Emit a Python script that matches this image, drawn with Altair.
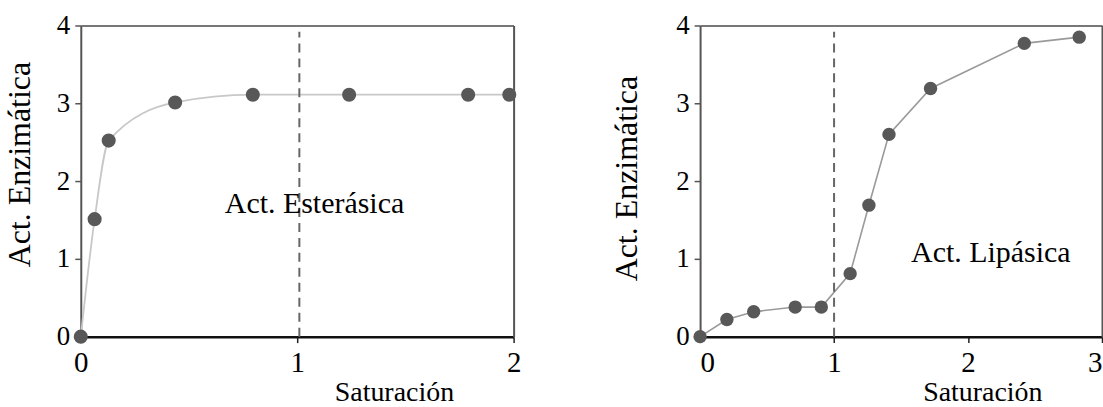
import altair as alt
import pandas as pd

# ---- data ----
left_x = [0.0, 0.064, 0.129, 0.436, 0.795, 1.24, 1.79, 1.98]
left_y = [0.0, 1.51, 2.52, 3.01, 3.11, 3.11, 3.11, 3.11]
right_x = [0.0, 0.20, 0.40, 0.71, 0.905, 1.12, 1.26, 1.41, 1.72, 2.42, 2.83]
right_y = [0.0, 0.22, 0.32, 0.38, 0.38, 0.81, 1.69, 2.60, 3.19, 3.77, 3.85]

left_sat_x = [1.01]
right_sat_x = [1.0]
sat_y0 = [0.0]
sat_y1 = [3.92]

left_label = ["Act. Esterásica"]
left_label_x = [1.08]
left_label_y = [1.70]
right_label = ["Act. Lipásica"]
right_label_x = [2.17]
right_label_y = [1.08]

left_xticks = [0.0, 1.0, 2.0]
right_xticks = [0.0, 1.0, 2.0, 3.0]
y_ticks = [0, 1, 2, 3, 4]

FONT = "Liberation Serif"


def panel(xs, ys, sat_x, label, lx, ly, xmax, xticks, width,
          line_color, line_w, interp, ytx, yty, xtx, flush, pt_size):
    df = pd.DataFrame({"x": xs, "y": ys})
    sat = pd.DataFrame({"x": sat_x, "y0": sat_y0, "y1": sat_y1})
    lab = pd.DataFrame({"t": label, "x": lx, "y": ly})

    xscale = alt.Scale(domain=[0, xmax], nice=False, zero=False)
    yscale = alt.Scale(domain=[0, 4], nice=False)

    xaxis = alt.Axis(values=xticks, format=".0f", title="Saturación", titleX=xtx,
                     titleY=42, titleAlign="center", titleBaseline="top",
                     titleFont=FONT, labelFont=FONT, titleFontSize=28,
                     titleFontWeight="normal", labelFontSize=29, labelPadding=6,
                     labelFlush=flush, labelOverlap=False,
                     tickSize=6, tickColor="#222", tickWidth=1.5,
                     domainColor="#111", domainWidth=2.5, grid=False,
                     labelColor="black", titleColor="black")
    yaxis = alt.Axis(values=y_ticks, format="d", title="Act. Enzimática",
                     titleAngle=270, titleX=ytx, titleY=yty, titleAlign="center",
                     titleBaseline="bottom", titleFont=FONT, labelFont=FONT,
                     titleFontSize=32, titleFontWeight="normal",
                     labelFontSize=27, labelPadding=5, labelOverlap=False,
                     tickSize=6, tickColor="#555", tickWidth=1.5,
                     domainColor="#555", domainWidth=2, grid=False,
                     labelColor="black", titleColor="black")
    top_axis = alt.Axis(orient="top", labels=False, ticks=False, title="",
                        domainColor="#777", domainWidth=2, grid=False)
    right_axis = alt.Axis(orient="right", labels=False, ticks=False, title="",
                          domainColor="#555", domainWidth=2, grid=False)

    line = alt.Chart(df).mark_line(color=line_color, strokeWidth=line_w,
                                   interpolate=interp).encode(
        x=alt.X("x:Q", scale=xscale, axis=xaxis),
        y=alt.Y("y:Q", scale=yscale, axis=yaxis),
    )
    pts = alt.Chart(df).mark_point(filled=True, color="#585858", size=pt_size,
                                   opacity=1).encode(
        x=alt.X("x:Q", scale=xscale, axis=None),
        y=alt.Y("y:Q", scale=yscale, axis=None),
    )
    rule = alt.Chart(sat).mark_rule(color="#666", strokeWidth=2,
                                    strokeDash=[9, 6]).encode(
        x=alt.X("x:Q", scale=xscale, axis=top_axis),
        y=alt.Y("y0:Q", scale=yscale, axis=right_axis),
        y2="y1:Q",
    )
    txt = alt.Chart(lab).mark_text(font=FONT, fontSize=30, color="black").encode(
        x=alt.X("x:Q", scale=xscale, axis=None),
        y=alt.Y("y:Q", scale=yscale, axis=None),
        text="t:N",
    )
    return alt.layer(line, pts, rule, txt).resolve_axis(
        x="independent", y="independent"
    ).properties(width=width, height=312)


left = panel(left_x, left_y, left_sat_x, left_label, left_label_x, left_label_y,
             2, left_xticks, 434, "#c8c8c8", 1.8, "monotone", -44, 139, 314,
             False, 200)
right = panel(right_x, right_y, right_sat_x, right_label, right_label_x,
              right_label_y, 3, right_xticks, 403, "#9a9a9a", 1.6, "linear",
              -57, 153, 283, True, 180)

chart = alt.hconcat(left, right, spacing=187, bounds="flush").properties(
    padding={"left": 3, "top": 11, "right": 0, "bottom": 0},
    background="white",
).configure_view(strokeWidth=0).configure_axis(
    labelFont=FONT, titleFont=FONT
)

chart.save("out.html", embed_options={"renderer": "svg", "actions": False})
